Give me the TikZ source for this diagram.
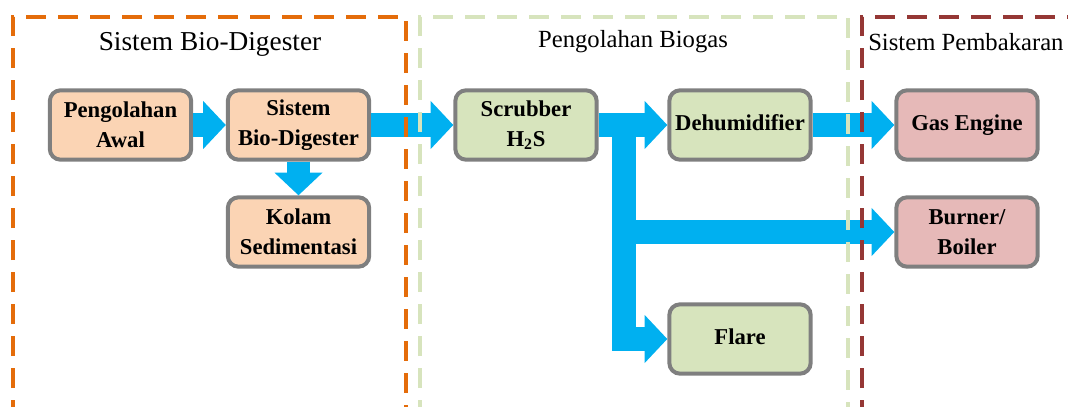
\documentclass[tikz,border=0pt]{standalone}
\usepackage{fontspec}
\setmainfont{Liberation Serif}
\usetikzlibrary{arrows.meta}
\definecolor{flowblue}{RGB}{0,176,240}
\definecolor{boxgray}{RGB}{127,127,127}
\definecolor{digestfill}{RGB}{251,212,180}
\definecolor{biogasfill}{RGB}{215,228,189}
\definecolor{burnfill}{RGB}{230,185,184}
\definecolor{digestline}{RGB}{228,108,10}
\definecolor{biogasline}{RGB}{215,228,189}
\definecolor{burnline}{RGB}{149,55,53}

\begin{document}
\begin{tikzpicture}[x=0.75pt,y=-0.75pt,
  unit/.style={draw=boxgray,line width=3pt,rounded corners=8pt,minimum width=106pt,minimum height=52pt,align=center,font=\bfseries\fontsize{17}{22.5}\selectfont},
  flow/.style={draw=flowblue,line width=17.5pt,-{Triangle[length=17pt,width=35pt]}},
  frame/.style={line width=#1,dash pattern=on 15pt off 9pt},
  title/.style={font=\fontsize{#1}{22}\selectfont}]
\clip (0,0) rectangle (1068,407);
% boxes
\node [unit,fill=digestfill] (awal) at (120.5,125) {Pengolahan\\Awal};
\node [unit,fill=digestfill] (digester) at (298.5,125) {Sistem\\Bio-Digester};
\node [unit,fill=digestfill] (kolam) at (298.5,232) {Kolam\\Sedimentasi};
\node [unit,fill=biogasfill] (scrubber) at (526,125) {Scrubber\\H\textsubscript{2}S};
\node [unit,fill=biogasfill] (dehum) at (740,125) {\raisebox{3pt}{Dehumidifier}};
\node [unit,fill=biogasfill] (flare) at (740,339) {\raisebox{3pt}{Flare}};
\node [unit,fill=burnfill] (engine) at (967,125) {\raisebox{3pt}{Gas Engine}};
\node [unit,fill=burnfill] (burner) at (967,232) {Burner/\\Boiler};
\coordinate (split) at (624,125);
% flows
\draw [flow] (awal.east) -- (digester.west);
\draw [flow] (digester.south) -- (kolam.north);
\draw [flow] (digester.east) -- (scrubber.west);
\draw [flow] (scrubber.east) -- (dehum.west);
\draw [flow] (dehum.east) -- (engine.west);
\draw [flow] (split) |- (flare.west);
\draw [flow] (split |- burner.west) -- (burner.west);
% frames
\draw [frame=3pt,digestline] (13,420) -- (13,17) -- (406,17) -- (406,420);
\draw [frame=2.5pt,biogasline] (420,420) -- (420,17) -- (848,17) -- (848,420);
\draw [frame=2.5pt,burnline] (862,420) -- (862,17) -- (1080,17);
\node [title=20.5] (t1) at (210,44) {Sistem Bio-Digester};
\node [title=18.5] (t2) at (633,42) {Pengolahan Biogas};
\node [title=18.5,anchor=west,inner sep=0pt] (t3) at (868,42) {Sistem Pembakaran};
\end{tikzpicture}
\end{document}
